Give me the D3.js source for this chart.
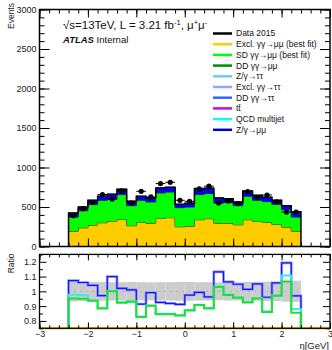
<!DOCTYPE html>
<html lang="en">
<head>
<meta charset="UTF-8">
<title>eta distribution, mu+mu- selection</title>
<script src="https://d3js.org/d3.v7.min.js"></script>
<style>
  body { margin: 0; background: #fff; }
  svg { display: block; font-family: "Liberation Sans", Arial, sans-serif; }
</style>
</head>
<body>
<div id="chart"></div>
<script>
// bins in eta (low edges, width 0.2)
const binLow = [-2.4, -2.2, -2.0, -1.8, -1.6, -1.4, -1.2, -1.0, -0.8, -0.6, -0.4, -0.2,
                0.0, 0.2, 0.4, 0.6, 0.8, 1.0, 1.2, 1.4, 1.6, 1.8, 2.0, 2.2];
const binWidth = 0.2;

// stacked MC (events per bin)
const exclMuMu = [195, 237, 271, 301, 322, 343, 263, 305, 296, 356, 365, 250,
                  258, 339, 352, 296, 296, 275, 339, 318, 305, 280, 246, 195];
const sdMuMu   = [178, 216, 259, 284, 275, 314, 254, 280, 268, 322, 325, 242,
                  242, 318, 318, 259, 259, 242, 297, 267, 263, 254, 220, 178];
const zMuMu    = [50, 47, 55, 51, 64, 68, 55, 51, 50, 63, 60, 42,
                  47, 76, 67, 59, 51, 47, 67, 63, 55, 51, 51, 68];

// data
const data2015 = [390, 479, 559, 657, 602, 703, 551, 699, 627, 797, 813, 585,
                  572, 729, 763, 551, 576, 543, 695, 619, 652, 564, 436, 436];
const dataErr  = [20, 22, 24, 26, 25, 27, 23, 26, 25, 28, 29, 24,
                  24, 27, 28, 23, 24, 23, 26, 25, 26, 24, 21, 21];

// ratio panel
const ratioTotal  = [1.073, 1.060, 1.041, 0.971, 1.100, 1.020, 1.010, 0.914, 0.991, 0.925, 0.918, 0.912,
                     0.975, 0.993, 0.962, 1.132, 1.064, 1.048, 1.014, 1.050, 0.960, 1.057, 1.193, 0.970];
const ratioCyan   = [0.977, 0.973, 0.940, 0.887, 1.003, 0.926, 0.933, 0.830, 0.905, 0.848, 0.848, 0.839,
                     0.873, 0.910, 0.887, 1.033, 0.978, 0.960, 0.928, 0.955, 0.864, 0.974, 1.107, 0.880];
const ratioSignal = [0.952, 0.950, 0.936, 0.884, 1.000, 0.923, 0.930, 0.827, 0.902, 0.845, 0.845, 0.836,
                     0.870, 0.907, 0.884, 1.030, 0.975, 0.957, 0.925, 0.952, 0.861, 0.971, 1.066, 0.856];
const bandErr     = [0.068, 0.066, 0.064, 0.064, 0.062, 0.062, 0.064, 0.062, 0.060, 0.062, 0.062, 0.064,
                     0.064, 0.062, 0.062, 0.060, 0.062, 0.062, 0.064, 0.064, 0.066, 0.066, 0.070, 0.072];

const legendLabels = ["Data 2015", "Excl. γγ→μμ (best fit)", "SD γγ→μμ (best fit)", "DD γγ→μμ",
                      "Z/γ→ττ", "Excl. γγ→ττ", "DD γγ→ττ", "tt\u0304", "QCD multijet", "Z/γ→μμ"];
const legendColors = ["#000000", "#ffcc00", "#00ff00", "#008800", "#66ccff", "#88aaff",
                      "#3366ff", "#cc00ff", "#00ffff", "#0000cc"];

const width = 332, height = 350;
const svg = d3.select("#chart").append("svg")
  .attr("width", width).attr("height", height);

const x = d3.scaleLinear().domain([-3, 3]).range([39.5, 330]);
const yMain = d3.scaleLinear().domain([0, 3000]).range([246.5, 9.5]);
const yRatio = d3.scaleLinear().domain([0.75, 1.25]).range([328.3, 254.4]).clamp(true);

const [x0, x1] = x.range();

// ---------- main panel: stacked histogram ----------
const rows = binLow.map((lo, i) => ({ lo, excl: exclMuMu[i], sd: sdMuMu[i], zmm: zMuMu[i] }));
const layers = d3.stack().keys(["excl", "sd", "zmm"])(rows);
const fills = { excl: "#ffcc00", sd: "#00ff00", zmm: "#0000ff" };

const stepPts = layer => layer.flatMap(d => [
  { x: d.data.lo, y0: d[0], y1: d[1] },
  { x: d.data.lo + binWidth, y0: d[0], y1: d[1] }
]);

const area = d3.area().x(p => x(p.x)).y0(p => yMain(p.y0)).y1(p => yMain(p.y1));
const topLine = d3.line().x(p => x(p.x)).y(p => yMain(p.y1));

const main = svg.append("g");
layers.forEach(layer => {
  const pts = stepPts(layer);
  main.append("path").attr("d", area(pts)).attr("fill", fills[layer.key]);
  main.append("path").attr("d", topLine(pts))
    .attr("fill", "none").attr("stroke", "#1a2a00").attr("stroke-width", 1);
});

// outline of total
const totPts = stepPts(layers[layers.length - 1]);
const outline = [{ x: binLow[0], y1: 0 }, ...totPts, { x: binLow[binLow.length - 1] + binWidth, y1: 0 }];
main.append("path").attr("d", topLine(outline))
  .attr("fill", "none").attr("stroke", "#000").attr("stroke-width", 1.5);

// data points
const pts = main.selectAll(".pt").data(binLow.map((lo, i) => ({ lo, v: data2015[i], e: dataErr[i] })))
  .enter().append("g").attr("class", "pt");
pts.append("line")
  .attr("x1", d => x(d.lo)).attr("x2", d => x(d.lo + binWidth))
  .attr("y1", d => yMain(d.v)).attr("y2", d => yMain(d.v))
  .attr("stroke", "#000").attr("stroke-width", 1);
pts.append("line")
  .attr("x1", d => x(d.lo + binWidth / 2)).attr("x2", d => x(d.lo + binWidth / 2))
  .attr("y1", d => yMain(d.v - d.e)).attr("y2", d => yMain(d.v + d.e))
  .attr("stroke", "#000").attr("stroke-width", 1);
pts.append("circle")
  .attr("cx", d => x(d.lo + binWidth / 2)).attr("cy", d => yMain(d.v))
  .attr("r", 2.6).attr("fill", "#000");

// ---------- ratio panel ----------
const ratio = svg.append("g");
ratio.selectAll(".band").data(binLow.map((lo, i) => ({ lo, e: bandErr[i] })))
  .enter().append("rect")
  .attr("x", d => x(d.lo)).attr("width", d => x(d.lo + binWidth) - x(d.lo))
  .attr("y", d => yRatio(1 + d.e)).attr("height", d => yRatio(1 - d.e) - yRatio(1 + d.e))
  .attr("fill", "#cccccc");

ratio.append("line")
  .attr("x1", x(binLow[0])).attr("x2", x(binLow[binLow.length - 1] + binWidth))
  .attr("y1", yRatio(1)).attr("y2", yRatio(1))
  .attr("stroke", "#999").attr("stroke-width", 1).attr("stroke-dasharray", "1,5");

const ratioLine = d3.line().x(p => x(p.x)).y(p => yRatio(p.y));
const ratioSteps = vals => [
  { x: binLow[0], y: 0 },
  ...binLow.flatMap((lo, i) => [{ x: lo, y: vals[i] }, { x: lo + binWidth, y: vals[i] }]),
  { x: binLow[binLow.length - 1] + binWidth, y: 0 }
];

// excl-only ratio sits below the axis range: clamped onto the bottom edge
const exclRatio = exclMuMu.map((v, i) => v / data2015[i]);
ratio.append("path")
  .attr("d", ratioLine([{ x: -3, y: 0 }, ...ratioSteps(exclRatio).slice(1, -1), { x: 3, y: 0 }]))
  .attr("fill", "none").attr("stroke", "#ffcc00").attr("stroke-width", 2.5);

ratio.append("path").attr("d", ratioLine(ratioSteps(ratioTotal)))
  .attr("fill", "none").attr("stroke", "#8a96ff").attr("stroke-width", 2.6);
ratio.append("path").attr("d", ratioLine(ratioSteps(ratioTotal)))
  .attr("fill", "none").attr("stroke", "#1414ff").attr("stroke-width", 1.2);
ratio.append("path").attr("d", ratioLine(ratioSteps(ratioCyan)))
  .attr("fill", "none").attr("stroke", "#33eeee").attr("stroke-width", 2);
ratio.append("path").attr("d", ratioLine(ratioSteps(ratioSignal)))
  .attr("fill", "none").attr("stroke", "#22dd33").attr("stroke-width", 2);

// ---------- frames and axes ----------
function drawAxis(g, axis, labelled) {
  g.call(axis);
  g.select(".domain").remove();
  g.selectAll("line").attr("stroke", "#000");
  g.attr("font-family", "Liberation Sans, Arial, sans-serif").attr("font-size", 9);
  g.selectAll("text").attr("fill", "#222");
  if (!labelled) g.selectAll("text").remove();
}

const yMaj = d3.range(0, 3001, 500), yMin = yMain.ticks(30);
const xMaj = x.ticks(6), xMin = x.ticks(30);
const rMaj = [0.8, 0.9, 1.0, 1.1, 1.2], rMin = [0.75, 0.85, 0.95, 1.05, 1.15, 1.25];
const [mBot, mTop] = yMain.range();
const [rBot, rTop] = yRatio.range();

// main panel
drawAxis(svg.append("g").attr("transform", `translate(${x0},0)`),
  d3.axisLeft(yMain).tickValues(yMaj).tickSize(-10).tickPadding(3).tickFormat(d3.format("d")), true);
drawAxis(svg.append("g").attr("transform", `translate(${x0},0)`),
  d3.axisLeft(yMain).tickValues(yMin).tickSize(-5), false);
drawAxis(svg.append("g").attr("transform", `translate(${x1},0)`),
  d3.axisRight(yMain).tickValues(yMaj).tickSize(-10), false);
drawAxis(svg.append("g").attr("transform", `translate(${x1},0)`),
  d3.axisRight(yMain).tickValues(yMin).tickSize(-5), false);
[[mTop, d3.axisTop], [mBot, d3.axisBottom]].forEach(([yy, ax]) => {
  drawAxis(svg.append("g").attr("transform", `translate(0,${yy})`), ax(x).tickValues(xMaj).tickSize(-8), false);
  drawAxis(svg.append("g").attr("transform", `translate(0,${yy})`), ax(x).tickValues(xMin).tickSize(-4), false);
});
svg.append("rect").attr("x", x0).attr("y", mTop).attr("width", x1 - x0).attr("height", mBot - mTop)
  .attr("fill", "none").attr("stroke", "#000").attr("stroke-width", 1.5);

// ratio panel
drawAxis(svg.append("g").attr("transform", `translate(${x0},0)`),
  d3.axisLeft(yRatio).tickValues(rMaj).tickSize(-7).tickPadding(3).tickFormat(d => String(+d.toFixed(2))), true);
drawAxis(svg.append("g").attr("transform", `translate(${x0},0)`),
  d3.axisLeft(yRatio).tickValues(rMin).tickSize(-3.5), false);
drawAxis(svg.append("g").attr("transform", `translate(${x1},0)`),
  d3.axisRight(yRatio).tickValues(rMaj).tickSize(-7), false);
drawAxis(svg.append("g").attr("transform", `translate(${x1},0)`),
  d3.axisRight(yRatio).tickValues(rMin).tickSize(-3.5), false);
drawAxis(svg.append("g").attr("transform", `translate(0,${rTop})`), d3.axisTop(x).tickValues(xMaj).tickSize(-6), false);
drawAxis(svg.append("g").attr("transform", `translate(0,${rTop})`), d3.axisTop(x).tickValues(xMin).tickSize(-3), false);
drawAxis(svg.append("g").attr("transform", `translate(0,${rBot})`),
  d3.axisBottom(x).tickValues(xMaj).tickSize(-6).tickPadding(2.5).tickFormat(d3.format("d")), true);
drawAxis(svg.append("g").attr("transform", `translate(0,${rBot})`), d3.axisBottom(x).tickValues(xMin).tickSize(-3), false);
svg.append("rect").attr("x", x0).attr("y", rTop).attr("width", x1 - x0).attr("height", rBot - rTop)
  .attr("fill", "none").attr("stroke", "#000").attr("stroke-width", 1.3);

// axis titles
svg.append("text").attr("transform", "translate(14,3) rotate(-90)")
  .attr("text-anchor", "end").attr("font-size", 8.5).attr("fill", "#222").text("Events");
svg.append("text").attr("transform", "translate(14,253.5) rotate(-90)")
  .attr("text-anchor", "end").attr("font-size", 8.5).attr("fill", "#222").text("Ratio");
svg.append("text").attr("x", 329).attr("y", 348.5).attr("text-anchor", "end")
  .attr("font-size", 9.5).attr("fill", "#222").text("η[GeV]");

// labels
const title = svg.append("text").attr("x", 63).attr("y", 29).attr("font-size", 11.5).attr("fill", "#111");
title.append("tspan").text("√s=13TeV, L = 3.21 fb");
title.append("tspan").attr("font-size", 7.5).attr("dy", -4.5).text("-1");
title.append("tspan").attr("dy", 4.5).text(", μ");
title.append("tspan").attr("font-size", 7.5).attr("dy", -4.5).text("+");
title.append("tspan").attr("dy", 4.5).text("μ");
title.append("tspan").attr("font-size", 7.5).attr("dy", -4.5).text("-");

const atlas = svg.append("text").attr("x", 63).attr("y", 42.5).attr("font-size", 9.5).attr("fill", "#111");
atlas.append("tspan").attr("font-weight", "bold").attr("font-style", "italic").text("ATLAS");
atlas.append("tspan").text(" Internal");

// legend
const leg = svg.append("g").selectAll("g").data(legendLabels).enter().append("g")
  .attr("transform", (d, i) => `translate(0,${33.5 + i * 10.7})`);
leg.append("line").attr("x1", 213).attr("x2", 232).attr("y1", 0).attr("y2", 0)
  .attr("stroke", (d, i) => legendColors[i]).attr("stroke-width", 2.5);
leg.append("text").attr("x", 236).attr("dy", "0.35em").attr("font-size", 8.5).attr("fill", "#111")
  .text(d => d);
</script>
</body>
</html>
